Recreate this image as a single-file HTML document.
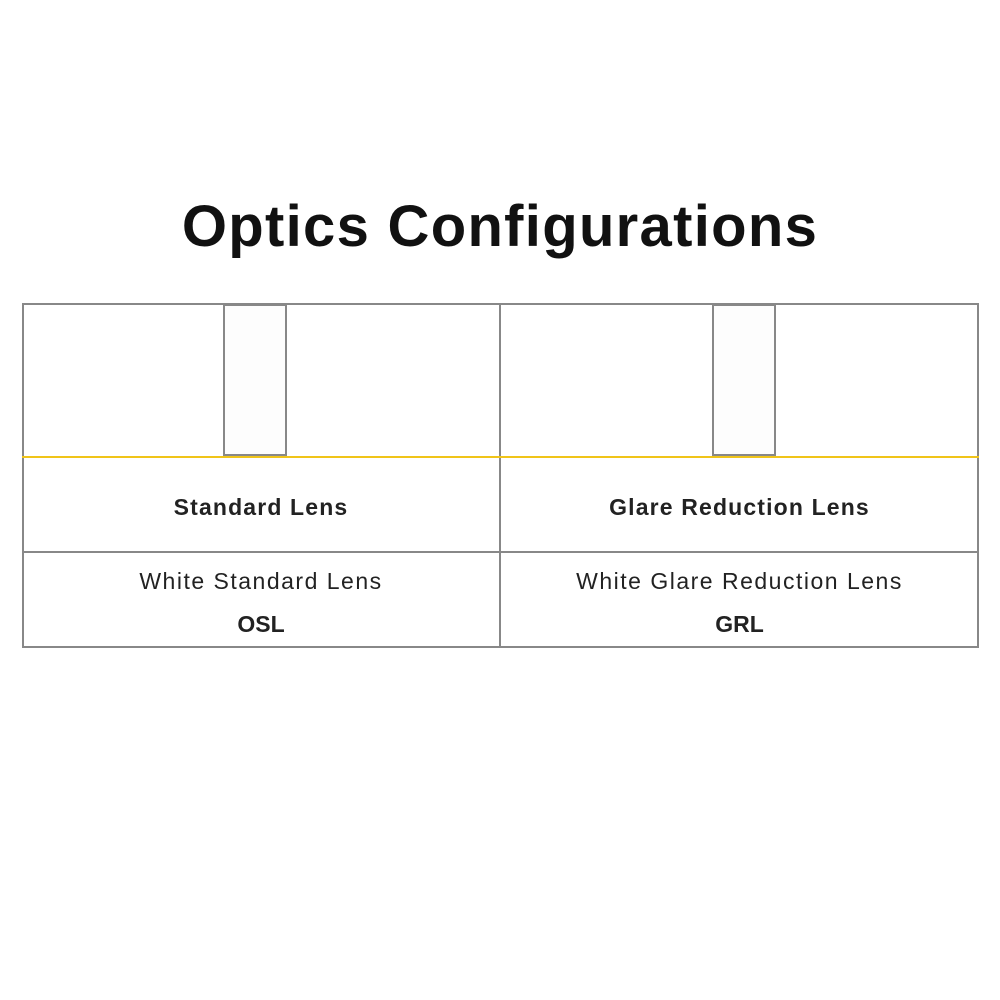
<!DOCTYPE html>
<html><head><style>
body{margin:0;width:1000px;height:1000px;background:#fff;font-family:"Liberation Sans",sans-serif;position:relative;overflow:hidden}
.t{position:absolute;left:0;width:1000px;top:193px;text-align:center;font-size:58px;font-weight:bold;color:#111;letter-spacing:1.3px}
.box{position:absolute;border:2px solid #888;box-sizing:border-box}
.l{position:absolute;background:#888}
.txt{position:absolute;text-align:center;color:#222}
.b{font-weight:bold;letter-spacing:1.15px}
.n{letter-spacing:1.5px}
</style></head><body>
<div class="t">Optics Configurations</div>
<div class="box" style="left:22px;top:303px;width:957px;height:345px"></div>
<div class="l" style="left:499px;top:303px;width:2px;height:345px"></div>
<div style="position:absolute;left:22px;top:456px;width:957px;height:2px;background:#f0c419"></div>
<div class="l" style="left:22px;top:551px;width:957px;height:2px"></div>
<div class="box" style="left:223px;top:304px;width:64px;height:152px;background:#fdfdfd"></div>
<div class="box" style="left:712px;top:304px;width:64px;height:152px;background:#fdfdfd"></div>
<div class="txt b" style="left:22px;width:478px;top:494px;font-size:23px">Standard Lens</div>
<div class="txt b" style="left:500px;width:479px;top:494px;font-size:23px">Glare Reduction Lens</div>
<div class="txt n" style="left:22px;width:478px;top:568px;font-size:23px">White Standard Lens</div>
<div class="txt n" style="left:500px;width:479px;top:568px;font-size:23px">White Glare Reduction Lens</div>
<div class="txt" style="left:22px;width:478px;top:611px;font-size:23px;font-weight:bold">OSL</div>
<div class="txt" style="left:500px;width:479px;top:611px;font-size:23px;font-weight:bold">GRL</div>
</body></html>
